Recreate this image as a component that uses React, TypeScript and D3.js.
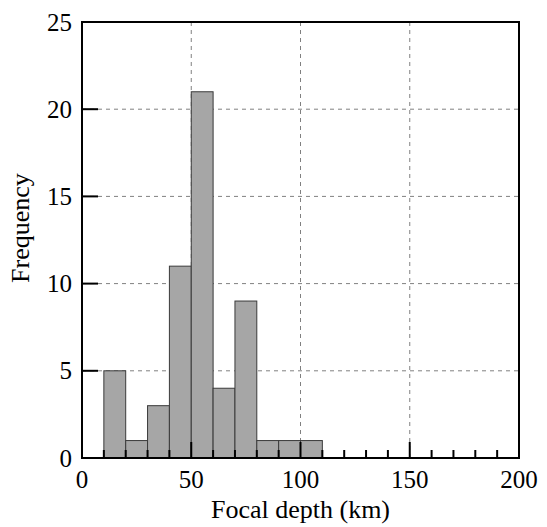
import React from "react";
import * as d3 from "d3";

const WIDTH = 547;
const HEIGHT = 527;
const MARGIN = { top: 22, right: 28, bottom: 69, left: 82 };

// histogram bins (km) and counts
const binStarts = [10, 20, 30, 40, 50, 60, 70, 80, 90, 100];
const binWidth = 10;
const counts = [5, 1, 3, 11, 21, 4, 9, 1, 1, 1];

const xTicks = [0, 50, 100, 150, 200];
const yTicks = [0, 5, 10, 15, 20, 25];
const xMinorTicks = d3.range(0, 201, 10);

const FONT = '"Liberation Serif", "DejaVu Serif", Times, serif';
const tickStyle: React.CSSProperties = { fontFamily: FONT, fontSize: "25px" };
const labelStyle: React.CSSProperties = { fontFamily: FONT, fontSize: "26px" };

export default function App() {
  const boundsWidth = WIDTH - MARGIN.left - MARGIN.right;
  const boundsHeight = HEIGHT - MARGIN.top - MARGIN.bottom;

  const xScale = d3.scaleLinear().domain([0, 200]).range([0, boundsWidth]);
  const yScale = d3.scaleLinear().domain([0, 25]).range([boundsHeight, 0]);

  return (
    <svg width={WIDTH} height={HEIGHT} style={{ position: "absolute", left: 0, top: 0 }}>
      <g transform={`translate(${MARGIN.left},${MARGIN.top})`}>
        {/* grid */}
        {xTicks.slice(1, -1).map((t) => (
          <line
            key={"gx" + t}
            x1={xScale(t)}
            x2={xScale(t)}
            y1={0}
            y2={boundsHeight}
            stroke="#808080"
            strokeDasharray="4,4"
          />
        ))}
        {yTicks.slice(1, -1).map((t) => (
          <line
            key={"gy" + t}
            x1={0}
            x2={boundsWidth}
            y1={yScale(t)}
            y2={yScale(t)}
            stroke="#808080"
            strokeDasharray="4,4"
          />
        ))}

        {/* bars */}
        {binStarts.map((b, i) => (
          <rect
            key={i}
            x={xScale(b)}
            width={xScale(b + binWidth) - xScale(b)}
            y={yScale(counts[i])}
            height={boundsHeight - yScale(counts[i])}
            fill="#a6a6a6"
            stroke="#3a3a3a"
            strokeWidth={1}
          />
        ))}

        {/* ticks */}
        {xMinorTicks.map((t) => {
          const major = t % 50 === 0;
          return (
            <line
              key={"tx" + t}
              x1={xScale(t)}
              x2={xScale(t)}
              y1={boundsHeight}
              y2={boundsHeight - (major ? 16 : 8)}
              stroke="#000"
              strokeWidth={2}
            />
          );
        })}
        {yTicks.map((t) => (
          <line
            key={"ty" + t}
            x1={0}
            x2={16}
            y1={yScale(t)}
            y2={yScale(t)}
            stroke="#000"
            strokeWidth={2}
          />
        ))}

        {/* frame */}
        <rect
          x={0}
          y={0}
          width={boundsWidth}
          height={boundsHeight}
          fill="none"
          stroke="#000"
          strokeWidth={2}
        />

        {/* tick labels */}
        {xTicks.map((t) => (
          <text
            key={"lx" + t}
            x={xScale(t)}
            y={boundsHeight + 30}
            textAnchor="middle"
            style={tickStyle}
          >
            {t}
          </text>
        ))}
        {yTicks.map((t) => (
          <text
            key={"ly" + t}
            x={-10}
            y={yScale(t) + 8.5}
            textAnchor="end"
            style={tickStyle}
          >
            {t}
          </text>
        ))}

        {/* axis labels */}
        <text
          x={boundsWidth / 2}
          y={boundsHeight + 60}
          textAnchor="middle"
          style={labelStyle}
        >
          Focal depth (km)
        </text>
        <text
          transform={`translate(${-53},${206}) rotate(-90)`}
          textAnchor="middle"
          style={labelStyle}
        >
          Frequency
        </text>
      </g>
    </svg>
  );
}
